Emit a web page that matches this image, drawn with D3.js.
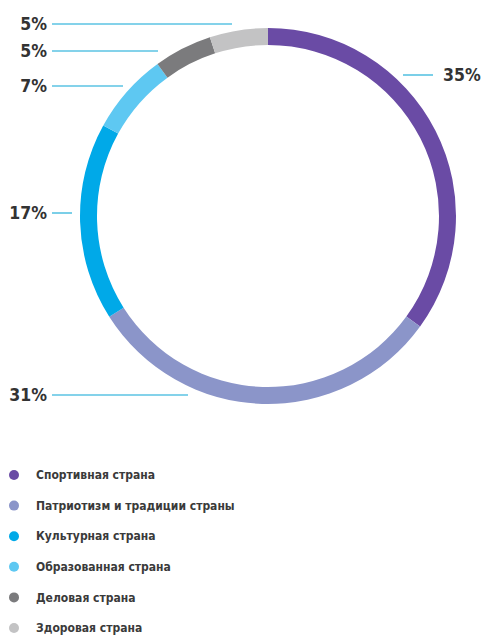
<!DOCTYPE html>
<html>
<head>
<meta charset="utf-8">
<script src="https://cdn.jsdelivr.net/npm/d3@7"></script>
<style>
  body { margin: 0; background: #fff; }
  text { font-family: "DejaVu Sans Condensed", "Liberation Sans Narrow", "Liberation Sans", sans-serif; }
</style>
</head>
<body>
<script>
// Data
var categories = ["Спортивная страна", "Патриотизм и традиции страны", "Культурная страна",
                  "Образованная страна", "Деловая страна", "Здоровая страна"];
var shares = [35, 31, 17, 7, 5, 5];
var colors = ["#6a4ba5", "#8b95c9", "#00a9e8", "#5ec8f2", "#7b7b7d", "#c3c3c4"];

// Layout for the value callouts (label y, line start / end x, side)
var callouts = [
    {y: 75,  x1: 403, x2: 433, side: "right"},
    {y: 395, x1: 52,  x2: 188, side: "left"},
    {y: 213, x1: 52,  x2: 72,  side: "left"},
    {y: 86,  x1: 52,  x2: 123, side: "left"},
    {y: 51,  x1: 52,  x2: 158, side: "left"},
    {y: 24,  x1: 52,  x2: 232, side: "left"}
];

var width = 486, height = 635,
    cx = 268, cy = 216,
    outerR = 188, innerR = 171;

var svg = d3.select("body")
    .append("svg")
        .attr("width", width)
        .attr("height", height);

var pie = d3.pie().sort(null).value(function (d) { return d; });
var arc = d3.arc().innerRadius(innerR).outerRadius(outerR);

var ring = svg.append("g")
    .attr("transform", "translate(" + cx + "," + cy + ")");

ring.selectAll("path")
    .data(pie(shares))
    .enter().append("path")
    .attr("d", arc)
    .attr("fill", function (d, i) { return colors[i]; });

// Callout lines and labels
var labels = svg.append("g");
callouts.forEach(function (c, i) {
    labels.append("line")
        .attr("x1", c.x1).attr("x2", c.x2)
        .attr("y1", c.y).attr("y2", c.y)
        .attr("stroke", "#5bc3e3")
        .attr("stroke-width", 1.6);
    labels.append("text")
        .attr("x", c.side === "right" ? c.x2 + 10 : c.x1 - 5)
        .attr("y", c.y)
        .attr("dy", "0.36em")
        .attr("text-anchor", c.side === "right" ? "start" : "end")
        .attr("font-size", 17.5)
        .attr("font-weight", "bold")
        .attr("fill", "#333")
        .text(shares[i] + "%");
});

// Legend
var legend = svg.append("g")
    .attr("transform", "translate(14,475)");

var item = legend.selectAll("g")
    .data(categories)
    .enter().append("g")
    .attr("transform", function (d, i) { return "translate(0," + (i * 30.6) + ")"; });

item.append("circle")
    .attr("r", 5)
    .attr("fill", function (d, i) { return colors[i]; });

item.append("text")
    .attr("x", 22)
    .attr("dy", "0.35em")
    .attr("font-size", 12)
    .attr("font-weight", "bold")
    .attr("fill", "#3a3a3a")
    .text(function (d) { return d; });
</script>
</body>
</html>
